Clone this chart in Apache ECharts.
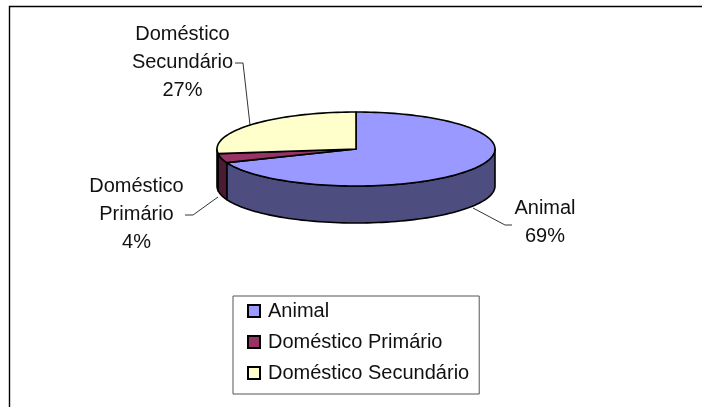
<!DOCTYPE html>
<html><head><meta charset="utf-8">
<style>html,body{margin:0;padding:0;background:#fff}#c{width:702px;height:407px}</style>
<script src="https://cdn.jsdelivr.net/npm/echarts@6/dist/echarts.min.js"></script>
</head><body><div id="c"></div>
<script>
const categories = ['Animal', 'Doméstico Primário', 'Doméstico Secundário'];
const values = [69, 4, 27];
const labelLines = [['Animal', '69%'], ['Doméstico', 'Primário', '4%'], ['Doméstico', 'Secundário', '27%']];
const topColors = ['#9999FF', '#993366', '#FFFFCC'];
const sideColors = ['#4D4D80', '#4D1A33', '#808066'];

const FONT = '"Liberation Sans", Arial, sans-serif';
const CX = 356, CY = 149, RX = 139, RY = 37, DEPTH = 37;
const labelPos = [[545, 208], [136.5, 186], [182.5, 34]];
const leaders = [
  [[473, 208], [505, 225], [512, 225]],
  [[218, 197], [193, 215], [185, 215]],
  [[250, 125], [243, 63], [235, 63]]
];
const total = values.reduce((a, b) => a + b, 0);
const pt = (deg, dy) => {
  const r = deg * Math.PI / 180;
  return [CX + RX * Math.sin(r), CY - RY * Math.cos(r) + (dy || 0)];
};
function arc(a0, a1, dy) {
  const out = [];
  const n = Math.max(2, Math.ceil(Math.abs(a1 - a0) / 2));
  for (let i = 0; i <= n; i++) out.push(pt(a0 + (a1 - a0) * i / n, dy));
  return out;
}
const lineStyle = {stroke: '#000', lineWidth: 1.6, lineJoin: 'round'};
function sliceRender(idx) {
  return function () {
    const start = values.slice(0, idx).reduce((a, b) => a + b, 0) / total * 360;
    const end = start + values[idx] / total * 360;
    const children = [];
    const a0 = Math.max(start, 90), a1 = Math.min(end, 270);
    if (a1 > a0) {
      const pts = arc(a0, a1, 0).concat(arc(a1, a0, DEPTH));
      children.push({type: 'polygon', z2: 1, shape: {points: pts},
        style: Object.assign({fill: sideColors[idx]}, lineStyle)});
    }
    children.push({type: 'polygon', z2: 2,
      shape: {points: [[CX, CY]].concat(arc(start, end, 0))},
      style: Object.assign({fill: topColors[idx]}, lineStyle)});
    children.push({type: 'polyline', z2: 0, shape: {points: leaders[idx]},
      style: {stroke: '#000', lineWidth: 0.8, fill: null}});
    labelLines[idx].forEach((t, i) => {
      children.push({type: 'text', z2: 3, style: {
        text: t, x: labelPos[idx][0], y: labelPos[idx][1] + i * 28,
        font: '20px ' + FONT, fill: '#111', align: 'center', verticalAlign: 'middle'}});
    });
    return {type: 'group', children};
  };
}
const chart = echarts.init(document.getElementById('c'), null, {renderer: 'canvas'});
chart.setOption({
  animation: false,
  backgroundColor: '#fff',
  graphic: [{type: 'polyline', z: -10,
    shape: {points: [[9.5, 420], [9.5, 6.5], [710, 6.5]]},
    style: {fill: null, stroke: '#000', lineWidth: 1.4}}],
  legend: {
    show: true, orient: 'vertical', left: 233, top: 296,
    data: categories, icon: 'rect', itemWidth: 12, itemHeight: 12, itemGap: 11,
    padding: [5, 10, 11, 14],
    borderColor: '#555', borderWidth: 1, backgroundColor: '#fff',
    textStyle: {fontFamily: FONT, fontSize: 20, color: '#111', padding: [0, 0, 0, 3]},
    selectedMode: false, formatter: n => n
  },
  series: categories.map((name, i) => ({
    type: 'custom', name, coordinateSystem: 'none', renderItem: sliceRender(i),
    data: [values[i]], silent: true, z: i === 0 ? 2 : 3,
    itemStyle: {color: topColors[i], borderColor: '#000', borderWidth: 1.5}
  }))
});
</script></body></html>
